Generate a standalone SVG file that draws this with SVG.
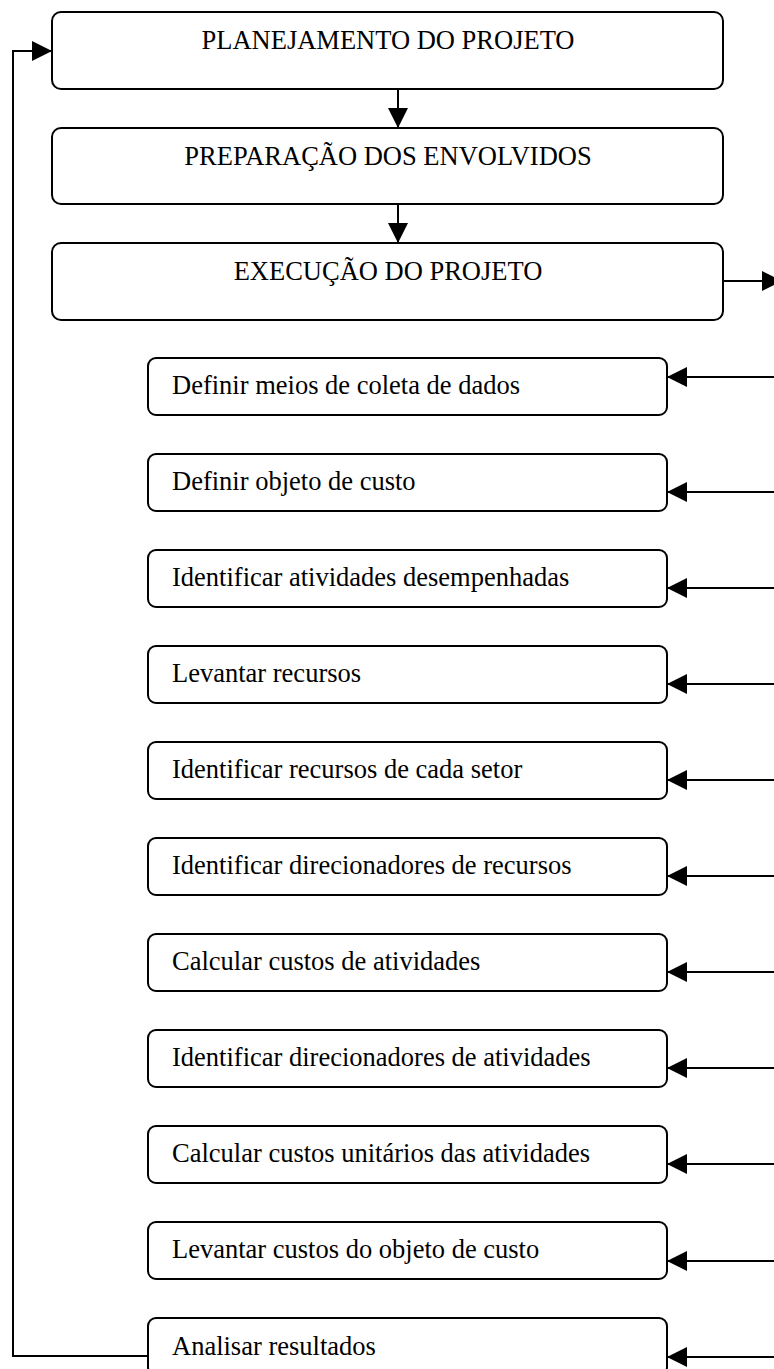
<svg xmlns="http://www.w3.org/2000/svg" width="774" height="1369" viewBox="0 0 774 1369">
<style>
.box{fill:#fff;stroke:#000;stroke-width:2}
.t{font-family:"Liberation Serif","Times New Roman",serif;font-size:26.5px;fill:#000}
.c{text-anchor:middle}
.ln{fill:none;stroke:#000;stroke-width:2}
</style>
<defs>
<marker id="ah" markerWidth="20" markerHeight="20" refX="20" refY="10" orient="auto" markerUnits="userSpaceOnUse">
<path d="M0,0 L20,10 L0,20 Z" fill="#000"/>
</marker>
</defs>
<rect width="774" height="1369" fill="#fff"/>
<g id="connectors">
<path class="ln" d="M398,89 V128" marker-end="url(#ah)"/>
<path class="ln" d="M398,204 V243" marker-end="url(#ah)"/>
<path class="ln" d="M723,281 H782" marker-end="url(#ah)"/>
<path class="ln" d="M148,1356 H13 V51 H52" marker-end="url(#ah)"/>
<path class="ln" d="M790,377 H667" marker-end="url(#ah)"/>
<path class="ln" d="M790,492 H667" marker-end="url(#ah)"/>
<path class="ln" d="M790,588 H667" marker-end="url(#ah)"/>
<path class="ln" d="M790,684 H667" marker-end="url(#ah)"/>
<path class="ln" d="M790,780 H667" marker-end="url(#ah)"/>
<path class="ln" d="M790,876 H667" marker-end="url(#ah)"/>
<path class="ln" d="M790,972 H667" marker-end="url(#ah)"/>
<path class="ln" d="M790,1068 H667" marker-end="url(#ah)"/>
<path class="ln" d="M790,1164 H667" marker-end="url(#ah)"/>
<path class="ln" d="M790,1261 H667" marker-end="url(#ah)"/>
<path class="ln" d="M790,1357 H667" marker-end="url(#ah)"/>
</g>
<g id="n-planejamento"><rect class="box" x="52" y="12" width="671" height="77" rx="9"/><text class="t c" x="388" y="49">PLANEJAMENTO DO PROJETO</text></g>
<g id="n-preparacao"><rect class="box" x="52" y="128" width="671" height="76" rx="9"/><text class="t c" x="388" y="165">PREPARAÇÃO DOS ENVOLVIDOS</text></g>
<g id="n-execucao"><rect class="box" x="52" y="243" width="671" height="77" rx="9"/><text class="t c" x="388" y="280">EXECUÇÃO DO PROJETO</text></g>
<g id="n1"><rect class="box" x="148" y="358" width="519" height="57" rx="8"/><text class="t" x="172" y="394">Definir meios de coleta de dados</text></g>
<g id="n2"><rect class="box" x="148" y="454" width="519" height="57" rx="8"/><text class="t" x="172" y="490">Definir objeto de custo</text></g>
<g id="n3"><rect class="box" x="148" y="550" width="519" height="57" rx="8"/><text class="t" x="172" y="586">Identificar atividades desempenhadas</text></g>
<g id="n4"><rect class="box" x="148" y="646" width="519" height="57" rx="8"/><text class="t" x="172" y="682">Levantar recursos</text></g>
<g id="n5"><rect class="box" x="148" y="742" width="519" height="57" rx="8"/><text class="t" x="172" y="778">Identificar recursos de cada setor</text></g>
<g id="n6"><rect class="box" x="148" y="838" width="519" height="57" rx="8"/><text class="t" x="172" y="874">Identificar direcionadores de recursos</text></g>
<g id="n7"><rect class="box" x="148" y="934" width="519" height="57" rx="8"/><text class="t" x="172" y="970">Calcular custos de atividades</text></g>
<g id="n8"><rect class="box" x="148" y="1030" width="519" height="57" rx="8"/><text class="t" x="172" y="1066">Identificar direcionadores de atividades</text></g>
<g id="n9"><rect class="box" x="148" y="1126" width="519" height="57" rx="8"/><text class="t" x="172" y="1162">Calcular custos unitários das atividades</text></g>
<g id="n10"><rect class="box" x="148" y="1222" width="519" height="57" rx="8"/><text class="t" x="172" y="1258">Levantar custos do objeto de custo</text></g>
<g id="n11"><rect class="box" x="148" y="1318" width="519" height="57" rx="8"/><text class="t" x="172" y="1355">Analisar resultados</text></g>
</svg>
